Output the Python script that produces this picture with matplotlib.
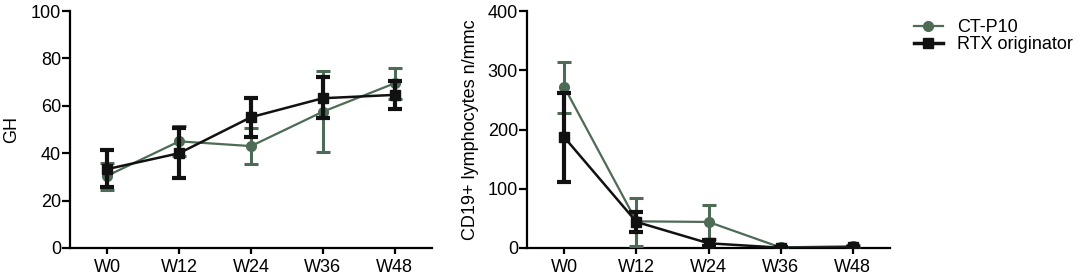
import matplotlib
matplotlib.use("Agg")
import matplotlib.pyplot as plt
from matplotlib.lines import Line2D
import numpy as np

plt.rcParams['font.family'] = ['Liberation Sans', 'DejaVu Sans']

weeks = ["W0", "W12", "W24", "W36", "W48"]

# GH panel
gh_ctp10 = [30.5, 45.0, 43.0, 57.5, 69.5]
gh_ctp10_lo = [24.5, 39.0, 35.3, 40.4, 63.0]
gh_ctp10_hi = [36.0, 51.3, 50.8, 74.7, 76.0]
gh_rtx = [33.3, 40.0, 55.2, 63.2, 64.6]
gh_rtx_lo = [25.6, 29.4, 47.0, 54.9, 58.6]
gh_rtx_hi = [41.2, 50.7, 63.2, 72.0, 70.6]

# CD19+ panel
cd_ctp10 = [271.0, 45.0, 44.0, 1.0, 3.0]
cd_ctp10_lo = [227.5, 3.0, 16.0, 0.0, 1.0]
cd_ctp10_hi = [314.5, 84.0, 72.0, 2.0, 5.0]
cd_rtx = [186.5, 44.0, 8.0, 0.5, 1.0]
cd_rtx_lo = [112.0, 27.0, 3.0, 0.0, 0.0]
cd_rtx_hi = [262.0, 60.7, 13.0, 1.0, 2.0]

green = '#4e6b56'
black = '#111111'
fs = 13

fig = plt.figure(figsize=(10.84, 2.75), dpi=100)
ax1 = fig.add_axes([70/1084, 27/275, 362/1084, 237/275])
ax2 = fig.add_axes([527/1084, 27/275, 363/1084, 237/275])

x = np.arange(len(weeks))

def draw(ax, g, glo, ghi, b, blo, bhi):
    g = np.array(g); glo = np.array(glo); ghi = np.array(ghi)
    b = np.array(b); blo = np.array(blo); bhi = np.array(bhi)
    ax.errorbar(x, g, yerr=[g - glo, ghi - g], color=green, marker='o', ms=7,
                lw=1.6, elinewidth=2.2, capsize=5, capthick=2.2, zorder=3)
    ax.errorbar(x, b, yerr=[b - blo, bhi - b], color=black, marker='s', ms=7,
                lw=1.8, elinewidth=3, capsize=5, capthick=3, zorder=4)
    ax.set_xticks(x)
    ax.set_xticklabels(weeks)
    ax.set_xlim(-0.52, 4.52)
    for s in ['top', 'right']:
        ax.spines[s].set_visible(False)
    for s in ['left', 'bottom']:
        ax.spines[s].set_linewidth(1.6)
    ax.tick_params(axis='y', direction='out', length=5.5, width=1.6, pad=1, labelsize=fs)
    ax.tick_params(axis='x', direction='out', length=4, width=1.6, pad=4, labelsize=fs)

draw(ax1, gh_ctp10, gh_ctp10_lo, gh_ctp10_hi, gh_rtx, gh_rtx_lo, gh_rtx_hi)
ax1.set_ylim(0, 100)
ax1.set_yticks([0, 20, 40, 60, 80, 100])
ax1.set_ylabel('GH', fontsize=fs)
ax1.yaxis.set_label_coords(-50/362, 0.5)

draw(ax2, cd_ctp10, cd_ctp10_lo, cd_ctp10_hi, cd_rtx, cd_rtx_lo, cd_rtx_hi)
ax2.set_ylim(0, 400)
ax2.set_yticks([0, 100, 200, 300, 400])
ax2.set_ylabel('CD19+ lymphocytes n/mmc', fontsize=fs)
ax2.yaxis.set_label_coords(-48/363, 0.5)

handles = [Line2D([], [], color=green, marker='o', ms=7, lw=1.6),
           Line2D([], [], color=black, marker='s', ms=7, lw=2.5)]
labels = ['CT-P10', 'RTX originator']
fig.legend(handles, labels, loc='upper left', bbox_to_anchor=(914/1084, 1 - 19/275),
           frameon=False, fontsize=fs, handlelength=1.6, handletextpad=0.8,
           labelspacing=0.0, borderaxespad=0, borderpad=0)

fig.savefig('out.png', dpi=100)
